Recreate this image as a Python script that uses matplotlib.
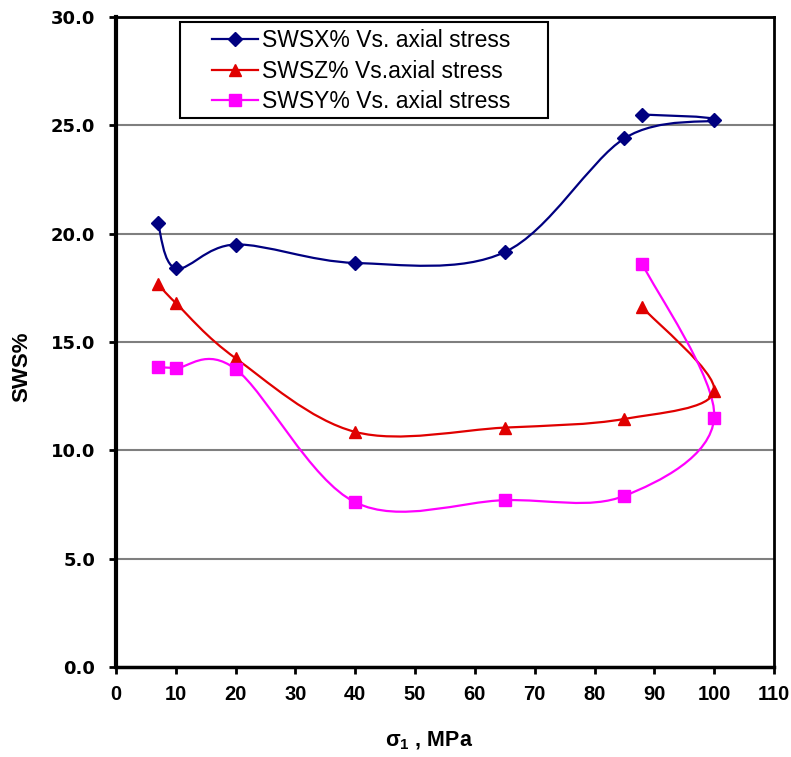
import matplotlib
matplotlib.use("Agg")
import matplotlib.pyplot as plt
from matplotlib.path import Path
from matplotlib.patches import PathPatch, Rectangle
from matplotlib.lines import Line2D

plt.rcParams['font.family'] = ['Liberation Sans', 'DejaVu Sans']
plt.rcParams['mathtext.fontset'] = 'custom'
plt.rcParams['mathtext.rm'] = 'Liberation Sans:bold'
plt.rcParams['mathtext.it'] = 'DejaVu Sans:bold'

# points in the order they were plotted
stress = [7, 10, 20, 40, 65, 85, 100, 88]
swsx = [20.5, 18.4, 19.5, 18.65, 19.15, 24.4, 25.25, 25.5]
swsz = [17.7, 16.8, 14.25, 10.85, 11.05, 11.45, 12.75, 16.6]
swsy = [13.85, 13.8, 13.75, 7.6, 7.7, 7.9, 11.5, 18.6]

labels = ['SWSX% Vs. axial stress', 'SWSZ% Vs.axial stress', 'SWSY% Vs. axial stress']
colors = ['#000080', '#e00000', '#ff00ff']
markers = ['D', '^', 's']
msizes = [7.5, 9, 9]


def smooth_path(xs, ys):
    # Excel style smoothed line: cubic bezier through every point
    n = len(xs)
    verts = [(xs[0], ys[0])]
    codes = [Path.MOVETO]
    for i in range(n - 1):
        p0 = (xs[max(i - 1, 0)], ys[max(i - 1, 0)])
        p1 = (xs[i], ys[i])
        p2 = (xs[i + 1], ys[i + 1])
        p3 = (xs[min(i + 2, n - 1)], ys[min(i + 2, n - 1)])
        c1 = (p1[0] + (p2[0] - p0[0]) / 6, p1[1] + (p2[1] - p0[1]) / 6)
        c2 = (p2[0] - (p3[0] - p1[0]) / 6, p2[1] - (p3[1] - p1[1]) / 6)
        verts += [c1, c2, p2]
        codes += [Path.CURVE4] * 3
    return Path(verts, codes)


fig = plt.figure(figsize=(7.91, 7.57), dpi=100)
ax = fig.add_axes([0.1466, 0.1189, 0.8319, 0.8586])

handles = []
for ys, lab, c, m, ms in zip([swsx, swsz, swsy], labels, colors, markers, msizes):
    ax.add_patch(PathPatch(smooth_path(stress, ys), facecolor='none', edgecolor=c, lw=1.6, zorder=3))
    ax.plot(stress, ys, linestyle='none', marker=m, color=c, markersize=ms, zorder=4)
    handles.append(Line2D([], [], color=c, lw=1.6, marker=m, markersize=ms, label=lab))

ax.set_xlim(0, 110)
ax.set_ylim(0, 30)
ax.set_xticks(range(0, 111, 10))
ax.set_yticks([0, 5, 10, 15, 20, 25, 30])
ax.set_yticklabels(['%.1f' % v for v in [0, 5, 10, 15, 20, 25, 30]])
for v in [5, 10, 15, 20, 25]:
    ax.axhline(v, color='#7f7f7f', lw=1.5, zorder=1)

ax.spines['left'].set_linewidth(3)
ax.spines['bottom'].set_linewidth(2.5)
ax.spines['top'].set_linewidth(2)
ax.spines['right'].set_linewidth(2)
ax.tick_params(direction='out', length=5, width=2)
ax.tick_params(axis='x', labelsize=14.5, pad=8)
ax.tick_params(axis='y', pad=10)
for t in ax.get_xticklabels():
    t.set_fontweight('bold')
for t in ax.get_yticklabels():
    t.set_fontweight('bold')
    t.set_family('DejaVu Sans')
    t.set_fontsize(13)

ax.set_xlabel(r'$\mathrm{\sigma_1}$ , MPa', fontsize=15.5, fontweight='bold')
ax.xaxis.set_label_coords((429 - 116) / 658, -0.097)
ax.set_ylabel('SWS%', fontsize=16, fontweight='bold')
ax.yaxis.set_label_coords((32 - 116) / 658, 0.4615)

# legend frame drawn separately (wider padding on the sides than on top/bottom)
ax.add_patch(Rectangle((180 / 791, 1 - 118 / 757), 368 / 791, 96 / 757,
                       transform=fig.transFigure, facecolor='white', clip_on=False,
                       edgecolor='black', lw=1.5, zorder=5))
leg = ax.legend(handles=handles, loc='upper left',
                bbox_to_anchor=(212 / 791, 1 - 29 / 757), bbox_transform=fig.transFigure,
                fontsize=16.5, frameon=False, borderpad=0, borderaxespad=0,
                handlelength=2.0, labelspacing=0.33, handletextpad=0.2)
leg.set_zorder(6)

fig.savefig('out.png', dpi=100)
